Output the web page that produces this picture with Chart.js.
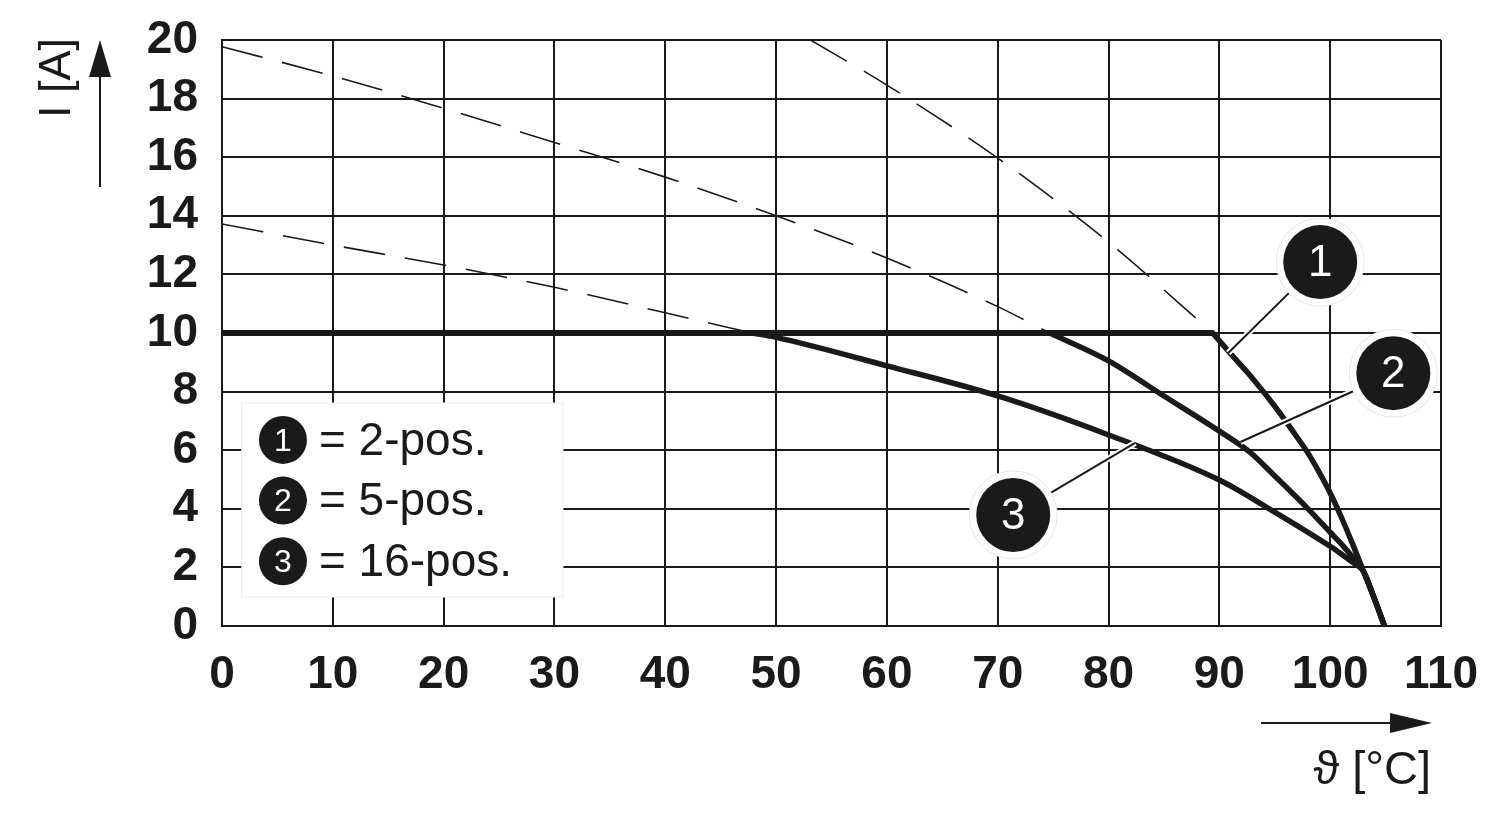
<!DOCTYPE html>
<html>
<head>
<meta charset="utf-8">
<script src="https://cdn.jsdelivr.net/npm/chart.js@4/dist/chart.umd.min.js"></script>
<style>
    html, body { margin: 0; padding: 0; background: #fff; }
    #wrap { width: 1500px; height: 820px; position: relative; }
</style>
</head>
<body>
<div id="wrap"><canvas id="derating"></canvas></div>
<script>
// Data
// ----------------------------------------------
const xTicks = [0, 10, 20, 30, 40, 50, 60, 70, 80, 90, 100, 110];
const yTicks = [0, 2, 4, 6, 8, 10, 12, 14, 16, 18, 20];

// common current limit (thick horizontal line)
const limitX = [0, 89.4];
const limitY = [10, 10];

// 1 = 2-pos.
const c1SolidX = [89.4, 91, 93, 95, 97, 98, 99, 100, 101, 102, 103, 104, 104.9];
const c1SolidY = [10.0, 9.3, 8.45, 7.5, 6.45, 5.9, 5.25, 4.54, 3.72, 2.82, 1.87, 0.92, 0];
const c1DashX  = [53.1, 60, 70, 80, 89.4];
const c1DashY  = [20.0, 18.46, 15.97, 13.1, 10.0];

// 2 = 5-pos.
const c2SolidX = [74.7, 80, 85, 90, 92.7, 95, 98, 100, 101, 102, 103, 104, 104.9];
const c2SolidY = [10.0, 9.05, 7.85, 6.65, 5.95, 5.12, 4.0, 3.2, 2.8, 2.36, 1.87, 0.92, 0];
const c2DashX  = [0, 10, 20, 30, 40, 50, 60, 70, 74.7];
const c2DashY  = [19.77, 18.77, 17.67, 16.5, 15.32, 14.0, 12.56, 10.9, 10.0];

// 3 = 16-pos.
const c3SolidX = [47.8, 50, 60, 70, 80, 90, 94.5, 100, 101, 102, 103, 104, 104.9];
const c3SolidY = [10.0, 9.85, 8.88, 7.85, 6.52, 4.98, 4.0, 2.72, 2.46, 2.18, 1.87, 0.92, 0];
const c3DashX  = [0, 10, 20, 30, 40, 47.8];
const c3DashY  = [13.72, 13.0, 12.32, 11.56, 10.69, 10.0];

const legendNums  = ['1', '2', '3'];
const legendTexts = ['= 2-pos.', '= 5-pos.', '= 16-pos.'];

// callout bubbles: bubble centre and the point on the curve, in axis units
const calloutNums = ['1', '2', '3'];
const calloutAt   = [[99.1, 12.42], [105.7, 8.63], [71.4, 3.79]];
const calloutTip  = [[90.8, 9.32], [91.9, 6.28], [82.4, 6.25]];

const ink = '#1a1a1a';
const pts = (xs, ys) => xs.map((x, i) => ({ x: x, y: ys[i] }));

function solid(xs, ys) {
    return {
        data: pts(xs, ys),
        borderColor: ink,
        borderWidth: 5.5,
        pointRadius: 0,
        cubicInterpolationMode: 'monotone',
        borderCapStyle: 'round',
        borderJoinStyle: 'round'
    };
}
function dashed(xs, ys) {
    return {
        data: pts(xs, ys),
        borderColor: ink,
        borderWidth: 1.6,
        borderDash: [42, 20],
        pointRadius: 0,
        cubicInterpolationMode: 'monotone'
    };
}

// Legend box, callouts and axis arrows
// ----------------------------------------------
const extras = {
    id: 'extras',
    afterDraw(chart) {
        const ctx = chart.ctx;
        const xs = chart.scales.x, ys = chart.scales.y;
        const px = v => xs.getPixelForValue(v);
        const py = v => ys.getPixelForValue(v);
        ctx.save();

        // legend box
        const bx0 = px(1.78), bx1 = px(30.77), by0 = py(7.61), by1 = py(0.99);
        ctx.fillStyle = '#fff';
        ctx.fillRect(bx0, by0, bx1 - bx0, by1 - by0);
        ctx.strokeStyle = '#eeeeee';
        ctx.lineWidth = 1;
        ctx.strokeRect(bx0, by0, bx1 - bx0, by1 - by0);
        const rowY = [6.35, 4.28, 2.21];
        legendNums.forEach((n, i) => {
            const cx = px(5.5), cy = py(rowY[i]);
            ctx.beginPath();
            ctx.arc(cx, cy, 24, 0, Math.PI * 2);
            ctx.fillStyle = ink;
            ctx.fill();
            ctx.fillStyle = '#fff';
            ctx.font = '32px "Liberation Sans", Arial, sans-serif';
            ctx.textAlign = 'center';
            ctx.textBaseline = 'middle';
            ctx.fillText(n, cx, cy + 2);
            ctx.fillStyle = ink;
            ctx.font = '46px "Liberation Sans", Arial, sans-serif';
            ctx.textAlign = 'left';
            ctx.textBaseline = 'middle';
            ctx.fillText(legendTexts[i], cx + 36, cy + 2);
        });

        // callouts
        calloutNums.forEach((n, i) => {
            const cx = px(calloutAt[i][0]), cy = py(calloutAt[i][1]);
            const tx = px(calloutTip[i][0]), ty = py(calloutTip[i][1]);
            const r = 37;
            const a = Math.atan2(ty - cy, tx - cx);
            const sx = cx + Math.cos(a) * (r + 4), sy = cy + Math.sin(a) * (r + 4);
            ctx.lineCap = 'butt';
            ctx.strokeStyle = '#fff';
            ctx.lineWidth = 6;
            ctx.beginPath(); ctx.moveTo(sx, sy); ctx.lineTo(tx, ty); ctx.stroke();
            ctx.strokeStyle = ink;
            ctx.lineWidth = 2;
            ctx.beginPath(); ctx.moveTo(sx, sy); ctx.lineTo(tx, ty); ctx.stroke();

            ctx.beginPath();
            ctx.arc(cx, cy, r + 7, 0, Math.PI * 2);
            ctx.fillStyle = '#fff';
            ctx.fill();
            ctx.strokeStyle = '#e6e6e6';
            ctx.lineWidth = 1;
            ctx.stroke();
            ctx.beginPath();
            ctx.arc(cx, cy, r, 0, Math.PI * 2);
            ctx.fillStyle = ink;
            ctx.fill();
            ctx.fillStyle = '#fff';
            ctx.font = '44px "Liberation Sans", Arial, sans-serif';
            ctx.textAlign = 'center';
            ctx.textBaseline = 'middle';
            ctx.fillText(n, cx, cy + 2);
        });

        // y axis title with arrow
        ctx.fillStyle = ink;
        ctx.strokeStyle = ink;
        ctx.lineWidth = 2;
        ctx.beginPath(); ctx.moveTo(100, 187); ctx.lineTo(100, 70); ctx.stroke();
        ctx.beginPath(); ctx.moveTo(100, 40); ctx.lineTo(111, 77); ctx.lineTo(89, 77); ctx.closePath(); ctx.fill();
        ctx.save();
        ctx.translate(58, 38);
        ctx.rotate(-Math.PI / 2);
        ctx.font = '45px "Liberation Sans", Arial, sans-serif';
        ctx.textAlign = 'right';
        ctx.textBaseline = 'middle';
        ctx.fillText('I [A]', 0, 0);
        ctx.restore();

        // x axis title with arrow
        ctx.beginPath(); ctx.moveTo(1261, 723); ctx.lineTo(1400, 723); ctx.stroke();
        ctx.beginPath(); ctx.moveTo(1432, 723); ctx.lineTo(1390, 713); ctx.lineTo(1390, 733); ctx.closePath(); ctx.fill();
        ctx.font = '47px "Liberation Sans", Arial, sans-serif';
        ctx.textAlign = 'right';
        ctx.textBaseline = 'alphabetic';
        ctx.fillText('\u03D1 [°C]', 1431, 784);

        ctx.restore();
    }
};

new Chart(document.getElementById('derating'), {
    type: 'line',
    data: {
        datasets: [
            {
                data: pts(limitX, limitY),
                borderColor: ink,
                borderWidth: 6,
                pointRadius: 0,
                tension: 0
            },
            solid(c1SolidX, c1SolidY),
            solid(c2SolidX, c2SolidY),
            solid(c3SolidX, c3SolidY),
            dashed(c1DashX, c1DashY),
            dashed(c2DashX, c2DashY),
            dashed(c3DashX, c3DashY)
        ]
    },
    options: {
        responsive: true,
        maintainAspectRatio: false,
        animation: false,
        events: [],
        layout: { padding: { top: 40, right: 59, left: 0, bottom: 0 } },
        plugins: { legend: { display: false }, tooltip: { enabled: false } },
        scales: {
            x: {
                type: 'linear',
                min: 0,
                max: 110,
                afterBuildTicks: s => { s.ticks = xTicks.map(v => ({ value: v })); },
                afterFit: s => { s.height = 194; s.paddingLeft = 0; s.paddingRight = 0; },
                grid: { color: ink, lineWidth: 2, drawTicks: false },
                border: { color: ink, width: 2 },
                ticks: {
                    color: ink,
                    padding: 22,
                    maxRotation: 0,
                    autoSkip: false,
                    font: { family: '"Liberation Sans", Arial, sans-serif', size: 46, weight: 'bold' }
                }
            },
            y: {
                type: 'linear',
                min: 0,
                max: 20,
                afterBuildTicks: s => { s.ticks = yTicks.map(v => ({ value: v })); },
                afterFit: s => { s.width = 222; s.paddingTop = 0; s.paddingBottom = 0; },
                grid: { color: ink, lineWidth: 2, drawTicks: false },
                border: { color: ink, width: 2 },
                ticks: {
                    color: ink,
                    padding: 24,
                    autoSkip: false,
                    font: { family: '"Liberation Sans", Arial, sans-serif', size: 46, weight: 'bold' }
                }
            }
        }
    },
    plugins: [extras]
});
</script>
</body>
</html>
